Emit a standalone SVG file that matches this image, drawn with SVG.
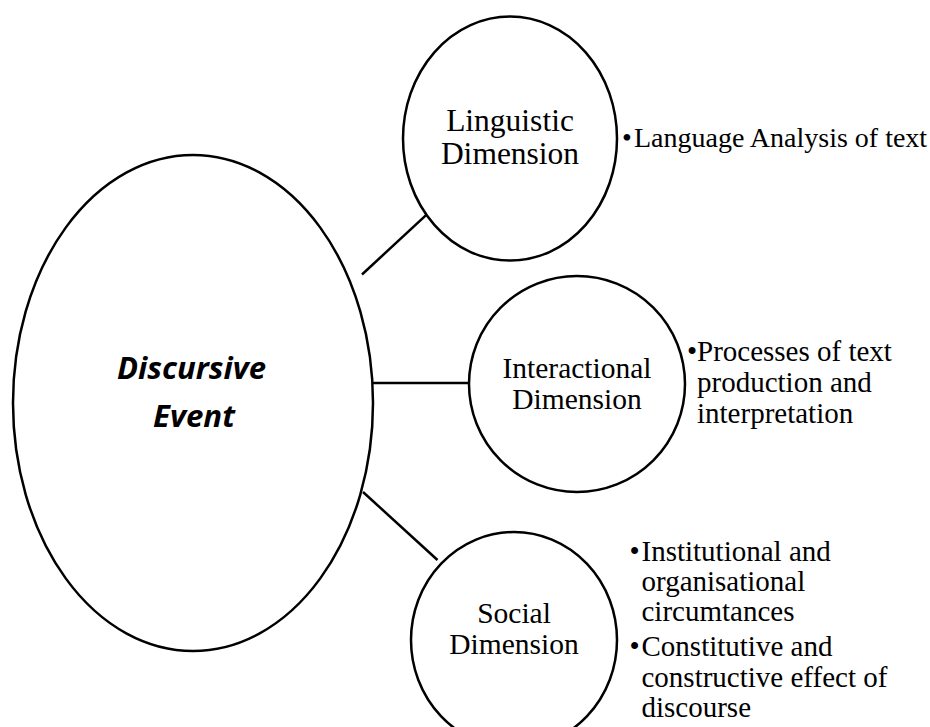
<svg xmlns="http://www.w3.org/2000/svg" width="930" height="727" viewBox="0 0 930 727">
<style>
.shape{fill:#fff;stroke:#000;stroke-width:2.5}
.conn line{stroke:#000;stroke-width:2.5}
.t{font-family:"Liberation Serif","Times New Roman",serif;fill:#000}
.c{text-anchor:middle}
.main{font-family:"Open Sans",Lato,sans-serif;font-weight:700;font-style:italic;font-size:29.5px}
</style>
<rect width="930" height="727" fill="#fff"/>
<g id="connectors" class="conn">
<line x1="362" y1="274.5" x2="426.6" y2="214.6"/>
<line x1="373" y1="383" x2="469" y2="383"/>
<line x1="363" y1="492" x2="437.5" y2="560"/>
</g>
<g id="discursive-event">
<ellipse class="shape" cx="193" cy="403" rx="180" ry="248"/>
<text class="main" x="117" y="378.5" textLength="149" lengthAdjust="spacingAndGlyphs">Discursive</text>
<text class="main" x="153" y="426.5" textLength="82" lengthAdjust="spacingAndGlyphs">Event</text>
</g>
<g id="linguistic">
<ellipse class="shape" cx="510" cy="138.6" rx="107" ry="122"/>
<text class="t c" font-size="31.5" x="510" y="131">Linguistic</text>
<text class="t c" font-size="31.5" x="510" y="164">Dimension</text>
</g>
<g id="linguistic-notes" class="t" font-size="28">
<text x="622" y="146.5">•</text>
<text x="634" y="146.5">Language Analysis of text</text>
</g>
<g id="interactional">
<ellipse class="shape" cx="577" cy="384" rx="108" ry="108"/>
<text class="t c" font-size="29.5" x="577" y="378">Interactional</text>
<text class="t c" font-size="29.5" x="577" y="408.5">Dimension</text>
</g>
<g id="interactional-notes" class="t" font-size="29">
<text x="687" y="360.5">•</text>
<text x="697" y="360.5">Processes of text</text>
<text x="697" y="391.5">production and</text>
<text x="697" y="422.5">interpretation</text>
</g>
<g id="social">
<ellipse class="shape" cx="514" cy="640" rx="103" ry="108"/>
<text class="t c" font-size="29.5" x="514" y="623">Social</text>
<text class="t c" font-size="29.5" x="514" y="654">Dimension</text>
</g>
<g id="social-notes" class="t" font-size="29">
<text x="629.5" y="560.5">•</text>
<text x="641.5" y="560.5">Institutional and</text>
<text x="641.5" y="590.5">organisational</text>
<text x="641.5" y="620.5">circumtances</text>
<text x="629.5" y="656">•</text>
<text x="641.5" y="656">Constitutive and</text>
<text x="641.5" y="686.5">constructive effect of</text>
<text x="641.5" y="717">discourse</text>
</g>
</svg>
